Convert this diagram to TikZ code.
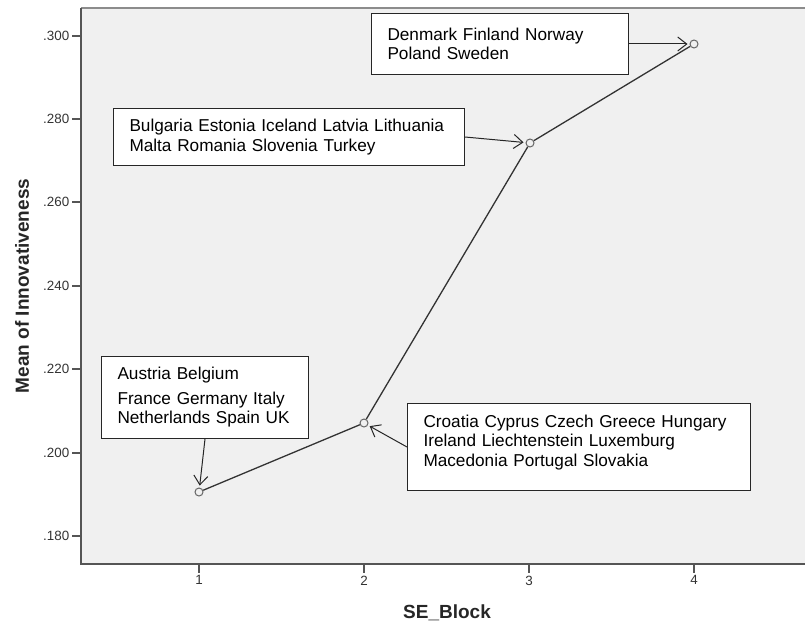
\documentclass[tikz,border=0pt]{standalone}
\usepackage{fontspec}
\setmainfont{Liberation Sans}
\usetikzlibrary{arrows.meta}
\definecolor{plotbg}{HTML}{F0F0F0}
\definecolor{axisgray}{HTML}{555555}
\tikzset{
  lbl/.style={draw=black!85, fill=white, line width=1pt, anchor=north west, align=left,
    inner xsep=16pt, font=\fontsize{17.2}{19.5}\selectfont},
  pt/.style={circle, draw=black!60, line width=1pt, minimum size=8pt, inner sep=0pt},
  callout/.style={line width=1pt, black!85, -{Straight Barb[length=9pt,width=14pt]}, shorten >=2pt},
  ticklbl/.style={font=\fontsize{13.4}{15}\selectfont, text=black!80, inner sep=2pt},
  axlbl/.style={font=\bfseries\fontsize{19}{21}\selectfont, text=black!85},
}
\begin{document}
\begin{tikzpicture}[x=1pt, y=-1pt]
    \useasboundingbox (0,0) rectangle (805,623);
    % 绘图区背景
    \fill[plotbg] (81,8) rectangle (805,564);
    \draw[black!45, line width=2pt] (81,8) -- (805,8);
    \draw[axisgray, line width=1.5pt] (81,8) -- (81,564) -- (805,564);

    % 坐标轴刻度
    \foreach \val/\ypos in {.300/36, .280/119, .260/202, .240/286, .220/369, .200/453, .180/536}
        \draw[axisgray, line width=1.5pt] (81,\ypos) -- (72,\ypos) node[left, ticklbl] {\val};
    \foreach \k in {1,...,4}
        \draw[axisgray, line width=1.5pt] (34+165*\k,564) -- ++(0,9) node[below, ticklbl] {\k};

    % 坐标轴标题
    \node[axlbl, rotate=90] (ylab) at (22,286) {Mean of Innovativeness};
    \node[axlbl] (xlab) at (447,613) {SE\_Block};

    % 数据点与折线
    \node[pt] (p1) at (199,492) {};
    \node[pt] (p2) at (364,423) {};
    \node[pt] (p3) at (530,143) {};
    \node[pt] (p4) at (694,44) {};
    \draw[black!80, line width=1.3pt] (p1) -- (p2) -- (p3) -- (p4);

    % 国家标注框
    \node[lbl, text width=225pt, minimum height=61pt] (dk) at (371,13)
        {Denmark Finland Norway\\Poland Sweden};
    \node[lbl, text width=319pt, minimum height=57pt] (bg) at (113,108)
        {Bulgaria Estonia Iceland Latvia Lithuania\\Malta Romania Slovenia Turkey};
    \node[lbl, text width=175pt, minimum height=82pt] (at) at (101,356)
        {Austria Belgium\\[5pt]France Germany Italy\\Netherlands Spain UK};
    \node[lbl, text width=311pt, minimum height=87pt] (cr) at (407,403)
        {Croatia Cyprus Czech Greece Hungary\\Ireland Liechtenstein Luxemburg\\Macedonia Portugal Slovakia\\[-7pt]\mbox{}};

    % 指向箭头
    \draw[callout] (dk.east) -- (p4);
    \draw[callout] (bg.east) -- (p3);
    \draw[callout] (at.south) -- (p1);
    \draw[callout] (cr.west) -- (p2);
\end{tikzpicture}
\end{document}
